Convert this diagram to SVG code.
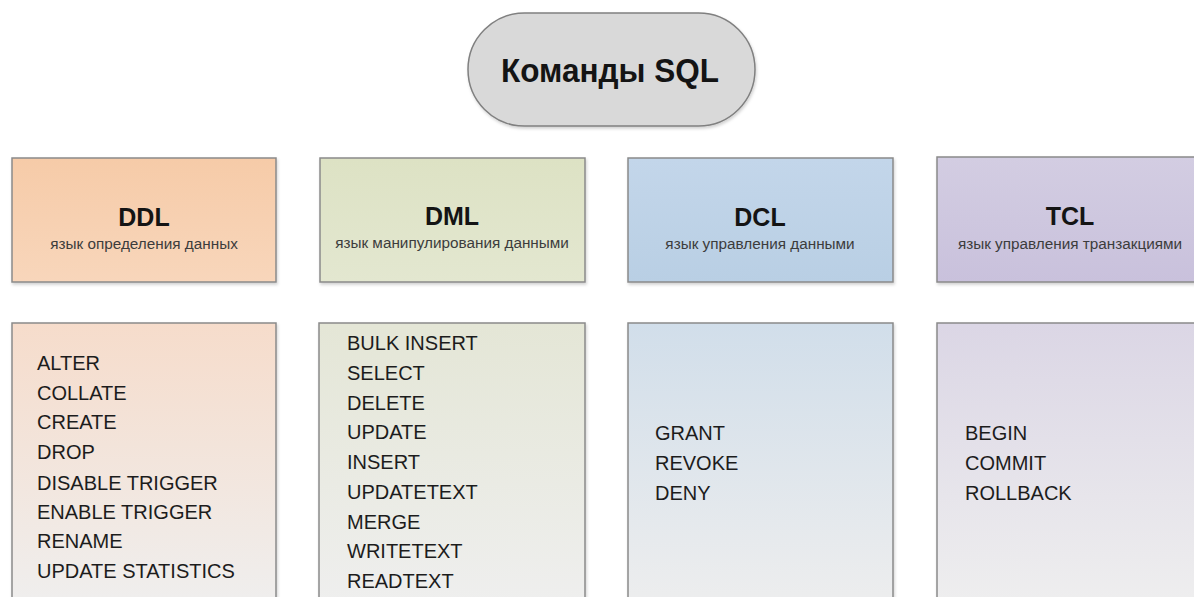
<svg xmlns="http://www.w3.org/2000/svg" width="1194" height="597" viewBox="0 0 1194 597">
  <style>
    .box { stroke: #8a8a8a; stroke-width: 1.5; }
    .title { font-family: "Liberation Sans", Arial, sans-serif; font-weight: bold; fill: #141414; text-anchor: middle; }
    .sub { font-family: "Liberation Sans", Arial, sans-serif; font-size: 15.3px; fill: #3c3c3c; text-anchor: middle; }
    .cmd { font-family: "Liberation Sans", Arial, sans-serif; font-size: 20px; fill: #1c1c1c; }
  </style>
  <defs>
    <filter id="shadow" x="-10%" y="-10%" width="120%" height="130%">
      <feDropShadow dx="1" dy="2" stdDeviation="1.5" flood-color="#000" flood-opacity="0.18"/>
    </filter>
    <linearGradient id="hDDL" x1="0" y1="0" x2="0" y2="1">
      <stop offset="0" stop-color="#f6cba8"/>
      <stop offset="1" stop-color="#f8d6bb"/>
    </linearGradient>
    <linearGradient id="hDML" x1="0" y1="0" x2="0" y2="1">
      <stop offset="0" stop-color="#dde2c4"/>
      <stop offset="1" stop-color="#e3e7d0"/>
    </linearGradient>
    <linearGradient id="hDCL" x1="0" y1="0" x2="0" y2="1">
      <stop offset="0" stop-color="#c3d6ea"/>
      <stop offset="1" stop-color="#b9cfe4"/>
    </linearGradient>
    <linearGradient id="hTCL" x1="0" y1="0" x2="0" y2="1">
      <stop offset="0" stop-color="#d3cde2"/>
      <stop offset="1" stop-color="#c9c1dc"/>
    </linearGradient>
    <linearGradient id="bDDL" x1="0" y1="0" x2="0" y2="1">
      <stop offset="0" stop-color="#f6dccb"/>
      <stop offset="1" stop-color="#efefef"/>
    </linearGradient>
    <linearGradient id="bDML" x1="0" y1="0" x2="0" y2="1">
      <stop offset="0" stop-color="#e4e6d6"/>
      <stop offset="1" stop-color="#efefef"/>
    </linearGradient>
    <linearGradient id="bDCL" x1="0" y1="0" x2="0" y2="1">
      <stop offset="0" stop-color="#d1deea"/>
      <stop offset="1" stop-color="#eeeeee"/>
    </linearGradient>
    <linearGradient id="bTCL" x1="0" y1="0" x2="0" y2="1">
      <stop offset="0" stop-color="#dbd6e5"/>
      <stop offset="1" stop-color="#efefef"/>
    </linearGradient>
  </defs>

  <rect width="1194" height="597" fill="#ffffff"/>

  <!-- no connectors between the nodes -->
  <g id="connectors"></g>

  <!-- root -->
  <g id="root">
    <rect x="468" y="13" width="287" height="113" rx="56.5" fill="#d9d9d9" stroke="#808080" stroke-width="1.5" filter="url(#shadow)"/>
    <text class="title" x="610" y="82" font-size="34" textLength="218" lengthAdjust="spacingAndGlyphs">Команды SQL</text>
  </g>

  <!-- category headers -->
  <g id="ddl-head">
    <rect class="box" x="12" y="158" width="264" height="124" fill="url(#hDDL)" filter="url(#shadow)"/>
    <text class="title" x="144" y="226" font-size="25">DDL</text>
    <text class="sub" x="144" y="249">язык определения данных</text>
  </g>
  <g id="dml-head">
    <rect class="box" x="320" y="158" width="265" height="124" fill="url(#hDML)" filter="url(#shadow)"/>
    <text class="title" x="452" y="225" font-size="25">DML</text>
    <text class="sub" x="452" y="248" font-size="15.8">язык манипулирования данными</text>
  </g>
  <g id="dcl-head">
    <rect class="box" x="628" y="158" width="265" height="124" fill="url(#hDCL)" filter="url(#shadow)"/>
    <text class="title" x="760" y="226" font-size="25">DCL</text>
    <text class="sub" x="760" y="249">язык управления данными</text>
  </g>
  <g id="tcl-head">
    <rect class="box" x="937" y="157" width="266" height="125" fill="url(#hTCL)" filter="url(#shadow)"/>
    <text class="title" x="1070" y="225" font-size="25">TCL</text>
    <text class="sub" x="1070" y="249">язык управления транзакциями</text>
  </g>

  <!-- command lists -->
  <g id="ddl-list">
    <rect class="box" x="12" y="323" width="264" height="290" fill="url(#bDDL)" filter="url(#shadow)"/>
    <text class="cmd" x="37" y="370">ALTER</text>
    <text class="cmd" x="37" y="400">COLLATE</text>
    <text class="cmd" x="37" y="429">CREATE</text>
    <text class="cmd" x="37" y="459">DROP</text>
    <text class="cmd" x="37" y="490">DISABLE TRIGGER</text>
    <text class="cmd" x="37" y="519">ENABLE TRIGGER</text>
    <text class="cmd" x="37" y="548">RENAME</text>
    <text class="cmd" x="37" y="578">UPDATE STATISTICS</text>
  </g>
  <g id="dml-list">
    <rect class="box" x="319" y="323" width="266" height="290" fill="url(#bDML)" filter="url(#shadow)"/>
    <text class="cmd" x="347" y="350">BULK INSERT</text>
    <text class="cmd" x="347" y="380">SELECT</text>
    <text class="cmd" x="347" y="410">DELETE</text>
    <text class="cmd" x="347" y="439">UPDATE</text>
    <text class="cmd" x="347" y="469">INSERT</text>
    <text class="cmd" x="347" y="499">UPDATETEXT</text>
    <text class="cmd" x="347" y="529">MERGE</text>
    <text class="cmd" x="347" y="558">WRITETEXT</text>
    <text class="cmd" x="347" y="588">READTEXT</text>
  </g>
  <g id="dcl-list">
    <rect class="box" x="628" y="323" width="265" height="290" fill="url(#bDCL)" filter="url(#shadow)"/>
    <text class="cmd" x="655" y="440">GRANT</text>
    <text class="cmd" x="655" y="470">REVOKE</text>
    <text class="cmd" x="655" y="500">DENY</text>
  </g>
  <g id="tcl-list">
    <rect class="box" x="937" y="323" width="266" height="290" fill="url(#bTCL)" filter="url(#shadow)"/>
    <text class="cmd" x="965" y="440">BEGIN</text>
    <text class="cmd" x="965" y="470">COMMIT</text>
    <text class="cmd" x="965" y="500">ROLLBACK</text>
  </g>
</svg>
